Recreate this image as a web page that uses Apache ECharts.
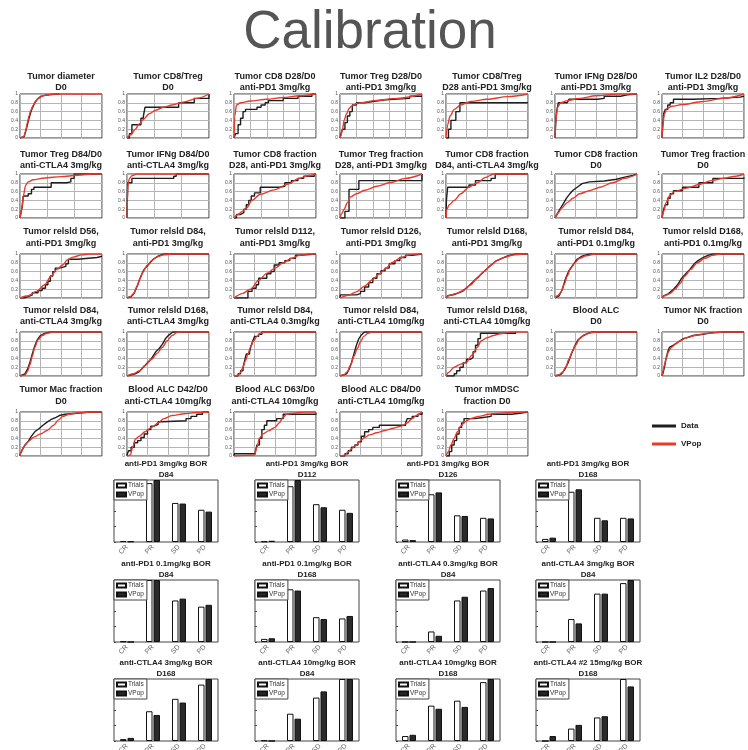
<!DOCTYPE html>
<html><head><meta charset="utf-8">
<script src="https://cdn.jsdelivr.net/npm/echarts/dist/echarts.min.js"></script>
<style>html,body{margin:0;padding:0;background:#fff}#c{width:748px;height:750px}</style>
</head><body><div id="c"></div>
<script>
// ---------- CDF panels ----------
const cdfTitles = [
  ["Tumor diameter","D0"],["Tumor CD8/Treg","D0"],["Tumor CD8 D28/D0","anti-PD1 3mg/kg"],["Tumor Treg D28/D0","anti-PD1 3mg/kg"],
  ["Tumor CD8/Treg","D28 anti-PD1 3mg/kg"],["Tumor IFNg D28/D0","anti-PD1 3mg/kg"],["Tumor IL2 D28/D0","anti-PD1 3mg/kg"],
  ["Tumor Treg D84/D0","anti-CTLA4 3mg/kg"],["Tumor IFNg D84/D0","anti-CTLA4 3mg/kg"],["Tumor CD8 fraction","D28, anti-PD1 3mg/kg"],
  ["Tumor Treg fraction","D28, anti-PD1 3mg/kg"],["Tumor CD8 fraction","D84, anti-CTLA4 3mg/kg"],["Tumor CD8 fraction","D0"],["Tumor Treg fraction","D0"],
  ["Tumor relsld D56,","anti-PD1 3mg/kg"],["Tumor relsld D84,","anti-PD1 3mg/kg"],["Tumor relsld D112,","anti-PD1 3mg/kg"],["Tumor relsld D126,","anti-PD1 3mg/kg"],
  ["Tumor relsld D168,","anti-PD1 3mg/kg"],["Tumor relsld D84,","anti-PD1 0.1mg/kg"],["Tumor relsld D168,","anti-PD1 0.1mg/kg"],
  ["Tumor relsld D84,","anti-CTLA4 3mg/kg"],["Tumor relsld D168,","anti-CTLA4 3mg/kg"],["Tumor relsld D84,","anti-CTLA4 0.3mg/kg"],["Tumor relsld D84,","anti-CTLA4 10mg/kg"],
  ["Tumor relsld D168,","anti-CTLA4 10mg/kg"],["Blood ALC","D0"],["Tumor NK fraction","D0"],
  ["Tumor Mac fraction","D0"],["Blood ALC D42/D0","anti-CTLA4 10mg/kg"],["Blood ALC D63/D0","anti-CTLA4 10mg/kg"],["Blood ALC D84/D0","anti-CTLA4 10mg/kg"],["Tumor mMDSC","fraction D0"]
];
const cdfXSplits = [4,3,5,5,4,4,4, 3,3,3,5,4,4,4, 4,4,4,4,4,4,4, 4,4,4,4,4,4,4, 4,4,4,4,4];
const dataIsStep = [false,true,true,true,true,true,true, true,true,true,true,true,false,true,
  true,false,true,true,false,false,false, false,false,true,false,true,false,false, false,true,true,true,true];

const dataCurves = [
 [[0,0],[2,0.02],[5,0.03],[7,0.15],[9,0.3],[11,0.45],[13,0.58],[15,0.68],[18,0.8],[21,0.88],[25,0.94],[30,0.97],[38,0.99],[48,1]],
 [[0,0],[3,0.1],[6,0.3],[17,0.45],[20,0.5],[22,0.7],[63,0.8],[82,0.9],[100,1]],
 [[0,0],[2,0.1],[5,0.3],[8,0.45],[11,0.6],[14,0.65],[28,0.7],[33,0.75],[38,0.8],[42,0.85],[60,0.9],[78,0.95],[95,1],[100,1]],
 [[0,0],[1,0.08],[3,0.2],[6,0.35],[9,0.5],[12,0.6],[15,0.75],[20,0.8],[30,0.83],[40,0.87],[55,0.9],[85,0.95],[100,0.95]],
 [[0,0],[3,0.2],[6,0.4],[12,0.6],[17,0.8],[100,0.8]],
 [[0,0],[1,0.4],[2,0.6],[4,0.8],[15,0.82],[17,0.88],[52,0.9],[60,0.95],[80,0.98],[88,1],[100,1]],
 [[0,0],[1,0.3],[2,0.55],[4,0.65],[7,0.75],[10,0.8],[14,0.88],[38,0.9],[70,0.93],[95,0.95],[100,0.95]],
 [[0,0],[1,0.1],[3,0.3],[4,0.5],[10,0.55],[14,0.65],[17,0.7],[38,0.8],[57,0.82],[62,0.9],[66,1],[100,1]],
 [[0,0],[0.5,0.5],[1,0.8],[6,0.9],[57,0.95],[60,1],[100,1]],
 [[0,0],[3,0.08],[8,0.12],[12,0.2],[15,0.3],[18,0.4],[21,0.5],[25,0.57],[32,0.7],[55,0.72],[62,0.8],[70,0.85],[78,0.9],[85,0.95],[98,1],[100,1]],
 [[0,0],[6,0.15],[11,0.65],[23,0.85],[100,1]],
 [[0,0],[0.5,0.4],[2,0.7],[28,0.75],[36,0.85],[55,0.9],[60,1],[100,1]],
 [[0,0],[3,0.1],[6,0.2],[10,0.32],[14,0.45],[18,0.55],[22,0.63],[27,0.7],[33,0.78],[42,0.82],[60,0.84],[75,0.88],[85,0.93],[95,0.97],[100,1]],
 [[0,0],[1,0.1],[2,0.2],[4,0.3],[7,0.45],[10,0.55],[14,0.62],[25,0.7],[45,0.8],[62,0.9],[100,0.92]],
 [[0,0],[5,0.03],[10,0.07],[15,0.12],[22,0.17],[27,0.22],[31,0.3],[34,0.38],[37,0.5],[40,0.6],[43,0.68],[48,0.72],[56,0.78],[59,0.88],[70,0.92],[94,0.95],[100,0.95]],
 [[0,0],[5,0.03],[9,0.12],[13,0.3],[17,0.5],[21,0.65],[27,0.78],[32,0.88],[38,0.95],[45,1],[100,1]],
 [[0,0],[17,0.15],[22,0.22],[27,0.3],[30,0.45],[36,0.45],[40,0.55],[45,0.6],[49,0.75],[55,0.8],[62,0.85],[68,0.9],[75,0.97],[80,1],[100,1]],
 [[0,0],[0.5,0.07],[20,0.1],[25,0.15],[30,0.25],[35,0.35],[40,0.45],[45,0.55],[50,0.62],[55,0.68],[60,0.78],[67,0.85],[73,0.92],[80,0.97],[88,1],[100,1]],
 [[0,0],[2,0.05],[10,0.08],[20,0.15],[28,0.28],[36,0.42],[45,0.58],[52,0.7],[60,0.83],[68,0.9],[76,0.96],[85,1],[100,1]],
 [[0,0],[5,0.05],[9,0.2],[13,0.45],[17,0.62],[22,0.75],[27,0.88],[33,0.95],[42,1],[100,1]],
 [[0,0],[2,0.05],[8,0.1],[14,0.2],[19,0.3],[24,0.45],[29,0.55],[34,0.65],[39,0.77],[44,0.85],[50,0.92],[56,0.97],[62,1],[100,1]],
 [[0,0],[1,0.03],[6,0.05],[9,0.15],[12,0.3],[15,0.5],[18,0.68],[21,0.82],[25,0.92],[30,0.97],[37,1],[100,1]],
 [[0,0],[1,0.03],[10,0.05],[15,0.1],[20,0.2],[25,0.3],[30,0.4],[35,0.55],[39,0.62],[43,0.72],[47,0.85],[51,0.93],[56,1],[100,1]],
 [[0,0],[5,0.05],[8,0.12],[11,0.2],[13,0.35],[15,0.5],[19,0.55],[21,0.7],[23,0.8],[25,0.9],[30,0.95],[34,1],[100,1]],
 [[0,0],[1,0.03],[8,0.05],[11,0.15],[14,0.3],[17,0.5],[20,0.7],[23,0.85],[26,0.93],[30,1],[100,1]],
 [[0,0],[10,0.05],[13,0.12],[17,0.2],[21,0.3],[25,0.38],[30,0.42],[33,0.55],[36,0.7],[39,0.85],[42,0.97],[85,1]],
 [[0,0],[5,0.02],[8,0.05],[12,0.15],[16,0.3],[20,0.5],[24,0.68],[28,0.82],[33,0.9],[38,0.95],[45,1],[100,1]],
 [[0,0],[1,0.05],[3,0.2],[5,0.4],[7,0.55],[9,0.65],[14,0.7],[18,0.75],[22,0.8],[26,0.85],[32,0.88],[38,0.92],[50,0.95],[60,0.98],[75,1],[100,1]],
 [[0,0],[0.5,0.05],[3,0.15],[6,0.25],[10,0.33],[14,0.45],[18,0.55],[23,0.62],[28,0.7],[33,0.77],[38,0.83],[44,0.88],[48,0.92],[55,0.95],[70,0.97],[85,1],[100,1]],
 [[0,0],[0.5,0.05],[2,0.12],[5,0.2],[9,0.3],[13,0.35],[17,0.42],[21,0.5],[25,0.6],[29,0.68],[33,0.72],[38,0.78],[42,0.8],[72,0.85],[78,0.9],[85,0.95],[92,1],[100,1]],
 [[0,0],[0.5,0.05],[26,0.1],[28,0.25],[31,0.4],[34,0.6],[37,0.7],[40,0.8],[52,0.85],[60,0.95],[100,0.97]],
 [[0,0],[6,0.05],[10,0.12],[14,0.2],[18,0.25],[22,0.32],[26,0.45],[30,0.55],[35,0.6],[40,0.65],[48,0.7],[80,0.75],[82,0.85],[88,0.9],[95,0.95],[100,1]],
 [[0,0],[4,0.1],[7,0.25],[10,0.35],[13,0.5],[16,0.65],[19,0.75],[22,0.85],[35,0.87],[43,0.9],[55,0.95],[80,0.97],[90,1],[100,1]]
];

const vpopCurves = [
 [[0,0],[3,0.02],[5,0.04],[7,0.18],[9,0.35],[11,0.5],[13,0.62],[16,0.74],[19,0.84],[23,0.91],[28,0.96],[35,0.99],[45,1],[100,1]],
 [[0,0],[5,0.08],[10,0.2],[15,0.32],[20,0.42],[27,0.55],[35,0.63],[45,0.7],[55,0.75],[70,0.82],[85,0.9],[100,1]],
 [[0,0],[1,0.5],[3,0.75],[8,0.8],[20,0.84],[40,0.88],[60,0.92],[80,0.96],[100,1]],
 [[0,0],[1,0.05],[3,0.2],[5,0.4],[8,0.55],[11,0.67],[14,0.72],[20,0.78],[26,0.8],[42,0.85],[70,0.9],[100,1]],
 [[0,0],[2,0.3],[5,0.5],[10,0.65],[18,0.75],[30,0.83],[50,0.88],[75,0.94],[100,1]],
 [[0,0],[1,0.4],[3,0.7],[7,0.8],[15,0.85],[30,0.9],[50,0.96],[75,1],[100,1]],
 [[0,0],[1,0.3],[3,0.55],[6,0.67],[12,0.72],[25,0.76],[50,0.83],[75,0.9],[100,1]],
 [[0,0],[2,0.2],[4,0.5],[7,0.75],[10,0.82],[16,0.87],[30,0.91],[50,0.94],[70,0.97],[90,1],[100,1]],
 [[0,0],[0.5,0.4],[1,0.75],[3,0.9],[6,0.96],[12,1],[100,1]],
 [[0,0],[5,0.08],[10,0.15],[15,0.22],[22,0.4],[32,0.54],[49,0.64],[66,0.77],[79,0.9],[90,0.96],[100,1]],
 [[0,0],[2,0.1],[5,0.2],[9,0.35],[13,0.48],[20,0.55],[30,0.63],[45,0.72],[60,0.8],[80,0.9],[100,1]],
 [[0,0],[1,0.2],[4,0.3],[10,0.4],[18,0.55],[28,0.7],[38,0.8],[48,0.92],[58,1],[100,1]],
 [[0,0],[4,0.12],[8,0.22],[15,0.35],[22,0.45],[30,0.55],[42,0.62],[55,0.7],[70,0.8],[85,0.9],[100,1]],
 [[0,0],[2,0.15],[5,0.35],[9,0.5],[15,0.6],[30,0.68],[45,0.76],[60,0.85],[75,0.9],[90,0.95],[100,1]],
 [[0,0],[10,0.05],[20,0.15],[30,0.3],[38,0.5],[45,0.65],[52,0.75],[58,0.87],[65,0.93],[75,0.98],[85,1],[100,1]],
 [[0,0],[4,0.03],[8,0.1],[12,0.25],[16,0.45],[20,0.62],[25,0.75],[30,0.85],[36,0.93],[45,0.98],[55,1],[100,1]],
 [[0,0],[10,0.1],[20,0.2],[30,0.4],[40,0.56],[50,0.68],[60,0.8],[70,0.9],[80,0.97],[90,1],[100,1]],
 [[0,0],[10,0.06],[20,0.14],[30,0.27],[40,0.42],[48,0.55],[56,0.67],[63,0.8],[75,0.92],[85,0.98],[92,1],[100,1]],
 [[0,0],[3,0.05],[12,0.1],[22,0.18],[30,0.3],[38,0.45],[46,0.6],[55,0.75],[63,0.86],[72,0.93],[82,0.98],[95,1],[100,1]],
 [[0,0],[3,0.05],[7,0.12],[11,0.3],[15,0.5],[19,0.68],[24,0.8],[30,0.9],[38,0.96],[50,1],[100,1]],
 [[0,0],[3,0.05],[10,0.1],[16,0.2],[22,0.33],[28,0.5],[35,0.65],[43,0.8],[52,0.9],[62,0.97],[72,1],[100,1]],
 [[0,0],[6,0.02],[9,0.1],[12,0.25],[15,0.45],[18,0.65],[22,0.82],[27,0.92],[33,0.97],[42,1],[100,1]],
 [[0,0],[8,0.05],[15,0.12],[22,0.24],[30,0.38],[37,0.52],[43,0.65],[49,0.8],[55,0.92],[62,1],[100,1]],
 [[0,0],[5,0.02],[8,0.08],[11,0.2],[14,0.35],[17,0.5],[20,0.65],[24,0.8],[28,0.9],[32,0.97],[38,1],[100,1]],
 [[0,0],[5,0.03],[9,0.1],[13,0.25],[17,0.45],[21,0.62],[25,0.78],[29,0.9],[34,0.97],[40,1],[100,1]],
 [[0,0],[3,0.08],[10,0.2],[18,0.27],[25,0.32],[32,0.48],[38,0.65],[43,0.8],[50,0.87],[58,0.92],[66,0.96],[80,1],[100,1]],
 [[0,0],[5,0.03],[9,0.08],[13,0.2],[17,0.38],[21,0.55],[25,0.7],[30,0.85],[36,0.94],[42,0.98],[50,1],[100,1]],
 [[0,0],[1,0.1],[3,0.25],[5,0.4],[8,0.55],[11,0.64],[16,0.72],[22,0.8],[30,0.87],[40,0.92],[55,0.97],[75,1],[100,1]],
 [[0,0],[1,0.08],[5,0.22],[10,0.33],[17,0.43],[25,0.5],[33,0.58],[41,0.7],[47,0.82],[52,0.9],[60,0.95],[70,0.98],[85,1],[100,1]],
 [[0,0],[4,0.02],[7,0.2],[10,0.38],[15,0.45],[22,0.55],[30,0.65],[38,0.75],[45,0.85],[55,0.92],[70,0.96],[85,0.99],[100,1]],
 [[0,0],[25,0.02],[28,0.2],[31,0.4],[35,0.5],[42,0.57],[50,0.65],[55,0.75],[60,0.88],[64,0.95],[75,0.98],[85,1],[100,1]],
 [[0,0],[6,0.02],[10,0.1],[15,0.18],[20,0.25],[25,0.35],[30,0.42],[36,0.48],[45,0.53],[55,0.58],[65,0.63],[75,0.68],[82,0.75],[88,0.85],[94,0.93],[100,1]],
 [[0,0],[3,0.1],[6,0.25],[10,0.4],[14,0.55],[18,0.68],[23,0.78],[30,0.85],[40,0.9],[52,0.95],[70,0.98],[90,1],[100,1]]
];

// ---------- BOR bar panels ----------
const borTitles = [
  ["anti-PD1 3mg/kg BOR","D84"],["anti-PD1 3mg/kg BOR","D112"],["anti-PD1 3mg/kg BOR","D126"],["anti-PD1 3mg/kg BOR","D168"],
  ["anti-PD1 0.1mg/kg BOR","D84"],["anti-PD1 0.1mg/kg BOR","D168"],["anti-CTLA4 0.3mg/kg BOR","D84"],["anti-CTLA4 3mg/kg BOR","D84"],
  ["anti-CTLA4 3mg/kg BOR","D168"],["anti-CTLA4 10mg/kg BOR","D84"],["anti-CTLA4 10mg/kg BOR","D168"],["anti-CTLA4 #2 15mg/kg BOR","D168"]
];
const borCategories = ["CR","PR","SD","PD"];
const trialsValues = [
  [0.016,0.95,0.63,0.52],[0.01,0.9,0.61,0.52],[0.04,0.77,0.43,0.39],[0.05,0.81,0.39,0.39],
  [0.01,1.0,0.67,0.57],[0.05,0.85,0.4,0.38],[0,0.17,0.67,0.83],[0,0.37,0.78,0.95],
  [0.03,0.48,0.68,0.91],[0.01,0.44,0.7,1.0],[0.08,0.57,0.65,0.95],[0,0.2,0.38,1.0]
];
const vpopBarValues = [
  [0.01,1.0,0.62,0.49],[0.02,1.0,0.56,0.47],[0.03,0.8,0.42,0.38],[0.07,0.85,0.35,0.38],
  [0,1.0,0.7,0.6],[0.06,0.83,0.37,0.42],[0,0.1,0.73,0.87],[0,0.3,0.78,1.0],
  [0.05,0.42,0.62,1.0],[0,0.36,0.8,1.0],[0.1,0.52,0.55,1.0],[0.08,0.26,0.4,0.88]
];

// ---------- layout ----------
const cdfLefts = [20,127,234,340,446,555,662];
const cdfTops = [94,174,254,332,412];
const cdfTitleY = [[77,88],[155,166],[232,244],[311,322],[390,402]];
const CDF_W = 82, CDF_H = 44;
const barLefts = [114,255,396,536];
const barTops = [480,580,679];
const BAR_W = 104, BAR_H = 62;

const grid = [], xAxis = [], yAxis = [], series = [], graphic = [], legend = [];
const titleFont = 'bold 9px "Liberation Sans", Arial, sans-serif';

graphic.push({type:'text', x:370, y:33, style:{text:'Calibration', font:'53px "Liberation Sans", Arial, sans-serif', fill:'#555', align:'center', verticalAlign:'middle'}});

cdfTitles.forEach((t, i) => {
  const r = Math.floor(i / 7), c = i % 7;
  const left = cdfLefts[c], top = cdfTops[r];
  grid.push({left, top, width: CDF_W, height: CDF_H, show: true, borderColor: '#333', borderWidth: 1, backgroundColor: '#fff', outerBoundsMode: 'none', containLabel: false});
  xAxis.push({type:'value', gridIndex:i, min:0, max:100, interval:100/cdfXSplits[i], axisLabel:{show:false}, axisTick:{show:false}, axisLine:{show:false},
    splitLine:{show:true, lineStyle:{color:'#b5b5b5', width:1}}});
  yAxis.push({type:'value', gridIndex:i, min:0, max:1, interval:0.2, axisLine:{show:false}, axisTick:{show:false},
    axisLabel:{show:true, fontSize:5, color:'#555', margin:2, showMinLabel:true, showMaxLabel:true, fontFamily:'Liberation Sans'},
    splitLine:{show:true, lineStyle:{color:'#b5b5b5', width:1}}});
  series.push({type:'line', name:'Data', xAxisIndex:i, yAxisIndex:i, data:dataCurves[i], step: dataIsStep[i] ? 'end' : false,
    symbol:'none', lineStyle:{color:'#1e1e1e', width:1.4}, itemStyle:{color:'#1e1e1e'}, silent:true, z:3});
  series.push({type:'line', name:'VPop', xAxisIndex:i, yAxisIndex:i, data:vpopCurves[i], smooth:0.3, smoothMonotone:'x',
    symbol:'none', lineStyle:{color:'#e8392b', width:1.4}, itemStyle:{color:'#e8392b'}, silent:true, z:4});
  const cx = left + CDF_W / 2;
  graphic.push({type:'text', x:cx, y:cdfTitleY[r][0], style:{text:t[0], font:titleFont, fill:'#222', align:'center', verticalAlign:'middle'}});
  graphic.push({type:'text', x:cx, y:cdfTitleY[r][1], style:{text:t[1], font:titleFont, fill:'#222', align:'center', verticalAlign:'middle'}});
});

const nC = cdfTitles.length;
borTitles.forEach((t, j) => {
  const gi = nC + j;
  const r = Math.floor(j / 4), c = j % 4;
  const left = barLefts[c], top = barTops[r];
  grid.push({left, top, width: BAR_W, height: BAR_H, show: true, borderColor: '#444', borderWidth: 1, backgroundColor: '#fff', outerBoundsMode: 'none', containLabel: false});
  xAxis.push({type:'category', gridIndex:gi, data:borCategories, axisLine:{show:false}, axisTick:{show:false},
    axisLabel:{rotate:45, fontSize:7, color:'#666', margin:4, fontFamily:'Liberation Sans'}, splitLine:{show:false}});
  yAxis.push({type:'value', gridIndex:gi, min:0, max:1, interval:0.25, axisLine:{show:false},
    axisTick:{show:true, inside:true, length:2, lineStyle:{color:'#444'}}, axisLabel:{show:false}, splitLine:{show:false}});
  series.push({type:'bar', name:'Trials', xAxisIndex:gi, yAxisIndex:gi, data:trialsValues[j], barWidth:6.5, barGap:'15%',
    itemStyle:{color:'#fff', borderColor:'#111', borderWidth:1}, silent:true});
  series.push({type:'bar', name:'VPop ', xAxisIndex:gi, yAxisIndex:gi, data:vpopBarValues[j], barWidth:6.5, barGap:'15%',
    itemStyle:{color:'#2a2a2a', borderColor:'#111', borderWidth:1}, silent:true});
  legend.push({data:['Trials','VPop '], left:left, top:top, orient:'vertical', itemWidth:9, itemHeight:4, itemGap:2,
    padding:[2,3,2,2], borderColor:'#444', borderWidth:1, backgroundColor:'#fff', selectedMode:false, icon:'rect',
    formatter: n => n.trim(), textStyle:{fontSize:6.5, color:'#333', fontFamily:'Liberation Sans', padding:[0,0,0,-3]}});
  const cx = left + BAR_W / 2;
  graphic.push({type:'text', x:cx, y:top - 16, style:{text:t[0], font:'bold 8px "Liberation Sans", Arial, sans-serif', fill:'#222', align:'center', verticalAlign:'middle'}});
  graphic.push({type:'text', x:cx, y:top - 5, style:{text:t[1], font:'bold 8px "Liberation Sans", Arial, sans-serif', fill:'#222', align:'center', verticalAlign:'middle'}});
});

legend.push({data:['Data','VPop'], left:652, top:422, orient:'vertical', itemWidth:24, itemHeight:3, itemGap:10, icon:'rect',
  selectedMode:false, padding:0, textStyle:{fontSize:8, fontWeight:'bold', color:'#222', fontFamily:'Liberation Sans'}});

const chart = echarts.init(document.getElementById('c'), null, {renderer:'canvas'});
chart.setOption({animation:false, backgroundColor:'#fff', grid, xAxis, yAxis, series, legend, graphic});
</script>
</body></html>
